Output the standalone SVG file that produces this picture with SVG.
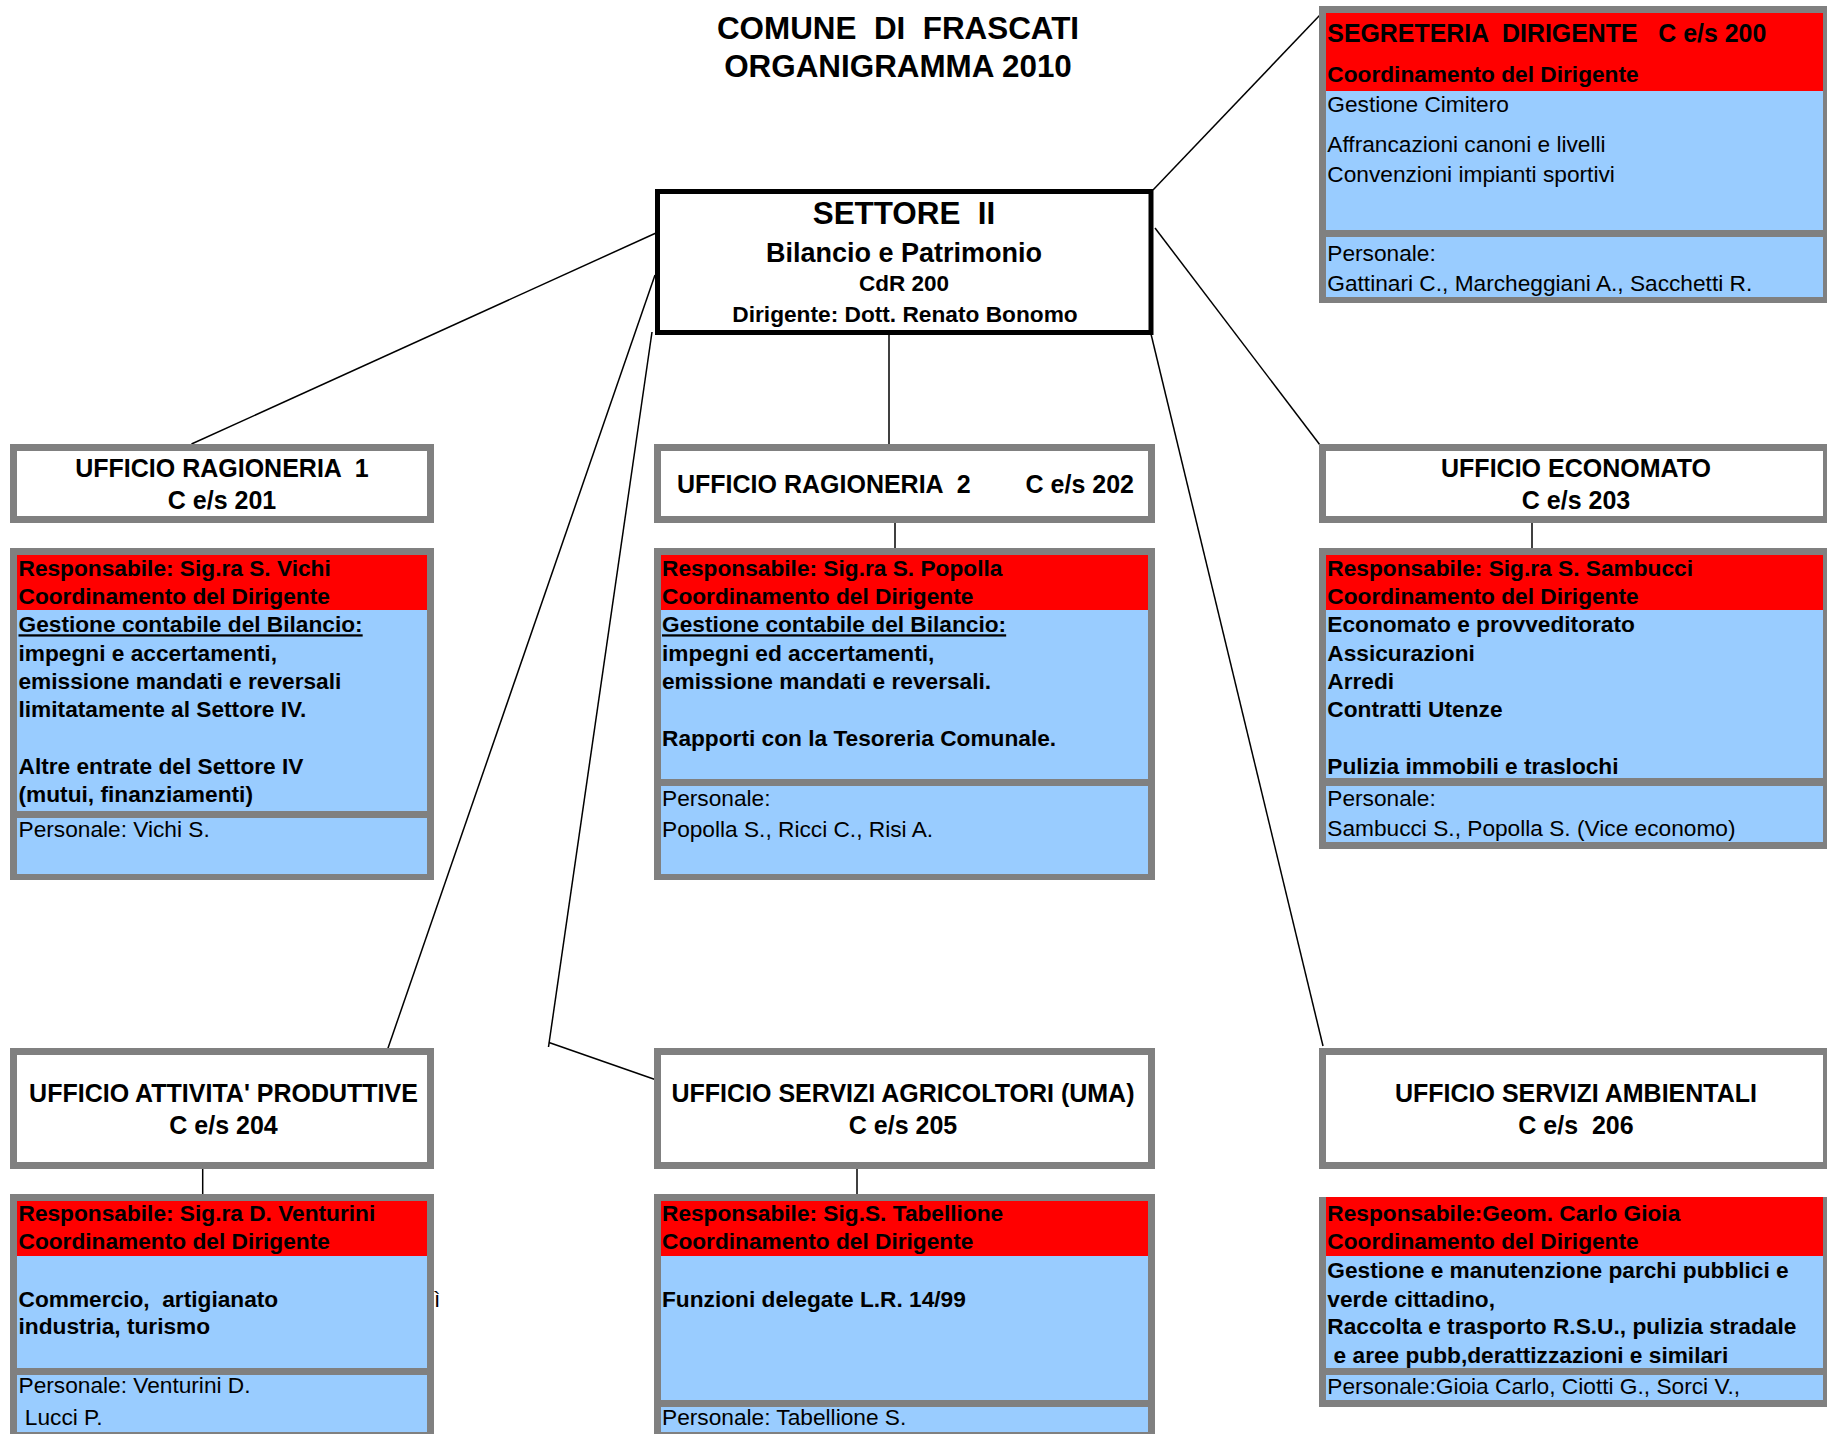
<svg xmlns="http://www.w3.org/2000/svg" width="1827" height="1434" viewBox="0 0 1827 1434">
<style>
text{font-family:"Liberation Sans",Arial,Helvetica,sans-serif;white-space:pre;fill:#000}
.b{font-weight:bold;font-size:22.7px}
.r{font-size:22.7px}
.u{text-decoration:underline}
.h{font-weight:bold;font-size:25px;text-anchor:middle}
.ttl{font-weight:bold;font-size:31.4px;text-anchor:middle}
.c{stroke:#000;stroke-width:1.5;fill:none}
.hdr{fill:#fff;stroke:#808080;stroke-width:7}
.g{fill:#808080}
.red{fill:#ff0000}
.bl{fill:#99ccff}
</style>
<rect width="1827" height="1434" fill="#fff"/>

<g id="title">
<text class="ttl" x="898" y="38.5">COMUNE  DI  FRASCATI</text>
<text class="ttl" x="898" y="77">ORGANIGRAMMA 2010</text>
</g>

<g id="connectors">
<line class="c" x1="656" y1="233" x2="191.5" y2="444"/>
<line class="c" x1="655" y1="275" x2="387" y2="1051"/>
<line class="c" x1="652" y1="332" x2="548.5" y2="1047"/>
<line class="c" x1="549" y1="1042.5" x2="655" y2="1079.5"/>
<line class="c" x1="889" y1="326" x2="889" y2="444"/>
<line class="c" x1="1153" y1="190" x2="1320" y2="15"/>
<line class="c" x1="1155" y1="228" x2="1320" y2="445"/>
<line class="c" x1="1151" y1="334" x2="1323" y2="1046"/>
<line class="c" x1="895" y1="519" x2="895" y2="548"/>
<line class="c" x1="1532" y1="519" x2="1532" y2="548"/>
<line class="c" x1="202.7" y1="1163" x2="202.7" y2="1194"/>
<line class="c" x1="857" y1="1163" x2="857" y2="1194"/>
</g>

<g id="settore">
<rect x="657.5" y="191.5" width="493.5" height="141" fill="#fff" stroke="#000" stroke-width="5"/>
<text class="ttl" x="904" y="224">SETTORE  II</text>
<text x="904" y="262" style="font-weight:bold;font-size:27px;text-anchor:middle">Bilancio e Patrimonio</text>
<text x="904" y="291" style="font-weight:bold;font-size:22.5px;text-anchor:middle">CdR 200</text>
<text x="905" y="322" style="font-weight:bold;font-size:22.7px;text-anchor:middle">Dirigente: Dott. Renato Bonomo</text>
</g>

<g id="segreteria">
<rect class="g" x="1319" y="6" width="511" height="297"/>
<rect class="red" x="1326" y="13" width="497" height="78"/>
<rect class="bl" x="1326" y="91" width="497" height="139"/>
<rect class="bl" x="1326" y="237" width="497" height="60"/>
<text x="1327.3" y="42.3" style="font-weight:bold;font-size:24.9px">SEGRETERIA  DIRIGENTE   C e/s 200</text>
<text class="b" x="1327.3" y="81.7">Coordinamento del Dirigente</text>
<text class="r" x="1327.3" y="111.7">Gestione Cimitero</text>
<text class="r" x="1327.3" y="151.7">Affrancazioni canoni e livelli</text>
<text class="r" x="1327.3" y="181.7">Convenzioni impianti sportivi</text>
<text class="r" x="1327.3" y="260.7">Personale:</text>
<text class="r" x="1327.3" y="290.7">Gattinari C., Marcheggiani A., Sacchetti R.</text>
</g>

<g id="ragioneria1">
<rect class="hdr" x="13.5" y="447.5" width="417" height="72"/>
<text class="h" x="222" y="476.7">UFFICIO RAGIONERIA  1</text>
<text class="h" x="222" y="509">C e/s 201</text>
<rect class="g" x="10" y="548" width="424" height="332"/>
<rect class="red" x="17" y="555" width="410" height="55"/>
<rect class="bl" x="17" y="610" width="410" height="201"/>
<rect class="bl" x="17" y="818" width="410" height="56"/>
<text class="b" x="18.5" y="575.7">Responsabile: Sig.ra S. Vichi</text>
<text class="b" x="18.5" y="604">Coordinamento del Dirigente</text>
<text class="b u" x="18.5" y="632.3">Gestione contabile del Bilancio:</text>
<text class="b" x="18.5" y="660.7">impegni e accertamenti,</text>
<text class="b" x="18.5" y="689">emissione mandati e reversali</text>
<text class="b" x="18.5" y="717.3">limitatamente al Settore IV.</text>
<text class="b" x="18.5" y="774">Altre entrate del Settore IV</text>
<text class="b" x="18.5" y="802.3">(mutui, finanziamenti)</text>
<text class="r" x="18.5" y="836.7">Personale: Vichi S.</text>
</g>

<g id="ragioneria2">
<rect class="hdr" x="657.5" y="447.5" width="494" height="72"/>
<text x="677" y="493.3" style="font-weight:bold;font-size:25px">UFFICIO RAGIONERIA  2</text>
<text x="1134" y="493.3" style="font-weight:bold;font-size:25px;text-anchor:end">C e/s 202</text>
<rect class="g" x="654" y="548" width="501" height="332"/>
<rect class="red" x="661" y="555" width="487" height="55"/>
<rect class="bl" x="661" y="610" width="487" height="169"/>
<rect class="bl" x="661" y="786" width="487" height="88"/>
<text class="b" x="662" y="575.7">Responsabile: Sig.ra S. Popolla</text>
<text class="b" x="662" y="604">Coordinamento del Dirigente</text>
<text class="b u" x="662" y="632.3">Gestione contabile del Bilancio:</text>
<text class="b" x="662" y="660.7">impegni ed accertamenti,</text>
<text class="b" x="662" y="689">emissione mandati e reversali.</text>
<text class="b" x="662" y="745.7">Rapporti con la Tesoreria Comunale.</text>
<text class="r" x="662" y="805.7">Personale:</text>
<text class="r" x="662" y="836.7">Popolla S., Ricci C., Risi A.</text>
</g>

<g id="economato">
<rect class="hdr" x="1322.5" y="447.5" width="504" height="72"/>
<text class="h" x="1576" y="476.7">UFFICIO ECONOMATO</text>
<text class="h" x="1576" y="509">C e/s 203</text>
<rect class="g" x="1319" y="548" width="511" height="301"/>
<rect class="red" x="1326" y="555" width="497" height="55"/>
<rect class="bl" x="1326" y="610" width="497" height="168"/>
<rect class="bl" x="1326" y="786" width="497" height="56"/>
<text class="b" x="1327.3" y="575.7">Responsabile: Sig.ra S. Sambucci</text>
<text class="b" x="1327.3" y="604">Coordinamento del Dirigente</text>
<text class="b" x="1327.3" y="632.3">Economato e provveditorato</text>
<text class="b" x="1327.3" y="660.7">Assicurazioni</text>
<text class="b" x="1327.3" y="689">Arredi</text>
<text class="b" x="1327.3" y="717.3">Contratti Utenze</text>
<text class="b" x="1327.3" y="774">Pulizia immobili e traslochi</text>
<text class="r" x="1327.3" y="805.7">Personale:</text>
<text class="r" x="1327.3" y="836">Sambucci S., Popolla S. (Vice economo)</text>
</g>

<g id="attivita">
<rect class="hdr" x="13.5" y="1051.5" width="417" height="114"/>
<text class="h" x="223.5" y="1101.7">UFFICIO ATTIVITA' PRODUTTIVE</text>
<text class="h" x="223.5" y="1134">C e/s 204</text>
<rect class="g" x="10" y="1194" width="424" height="250"/>
<rect class="red" x="17" y="1201" width="410" height="55"/>
<rect class="bl" x="17" y="1256" width="410" height="112"/>
<rect class="bl" x="17" y="1375" width="410" height="57"/>
<text class="b" x="18.5" y="1221">Responsabile: Sig.ra D. Venturini</text>
<text class="b" x="18.5" y="1249.3">Coordinamento del Dirigente</text>
<text class="b" x="18.5" y="1306.7">Commercio,  artigianato</text>
<text class="b" x="18.5" y="1334.3">industria, turismo</text>
<text class="r" x="18.5" y="1393.3">Personale: Venturini D.</text>
<text class="r" x="18.5" y="1425"> Lucci P.</text>
<text class="r" x="434" y="1306.7">ì</text>
</g>

<g id="agricoltori">
<rect class="hdr" x="657.5" y="1051.5" width="494" height="114"/>
<text class="h" x="903" y="1101.7">UFFICIO SERVIZI AGRICOLTORI (UMA)</text>
<text class="h" x="903" y="1134">C e/s 205</text>
<rect class="g" x="654" y="1194" width="501" height="250"/>
<rect class="red" x="661" y="1201" width="487" height="55"/>
<rect class="bl" x="661" y="1256" width="487" height="144"/>
<rect class="bl" x="661" y="1407" width="487" height="25"/>
<text class="b" x="662" y="1221">Responsabile: Sig.S. Tabellione</text>
<text class="b" x="662" y="1249.3">Coordinamento del Dirigente</text>
<text class="b" x="662" y="1306.7">Funzioni delegate L.R. 14/99</text>
<text class="r" x="662" y="1425">Personale: Tabellione S.</text>
</g>

<g id="ambientali">
<rect class="hdr" x="1322.5" y="1051.5" width="504" height="114"/>
<text class="h" x="1576" y="1101.7">UFFICIO SERVIZI AMBIENTALI</text>
<text class="h" x="1576" y="1134">C e/s  206</text>
<rect class="g" x="1319" y="1197" width="511" height="210"/>
<rect class="red" x="1326" y="1197" width="497" height="59"/>
<rect class="bl" x="1326" y="1256" width="497" height="112"/>
<rect class="bl" x="1326" y="1375" width="497" height="25"/>
<text class="b" x="1327.3" y="1221">Responsabile:Geom. Carlo Gioia</text>
<text class="b" x="1327.3" y="1249.3">Coordinamento del Dirigente</text>
<text class="b" x="1327.3" y="1278.3">Gestione e manutenzione parchi pubblici e</text>
<text class="b" x="1327.3" y="1306.7">verde cittadino,</text>
<text class="b" x="1327.3" y="1334.3">Raccolta e trasporto R.S.U., pulizia stradale</text>
<text class="b" x="1327.3" y="1362.7"> e aree pubb,derattizzazioni e similari</text>
<text class="r" x="1327.3" y="1394.3">Personale:Gioia Carlo, Ciotti G., Sorci V.,</text>
</g>
</svg>
